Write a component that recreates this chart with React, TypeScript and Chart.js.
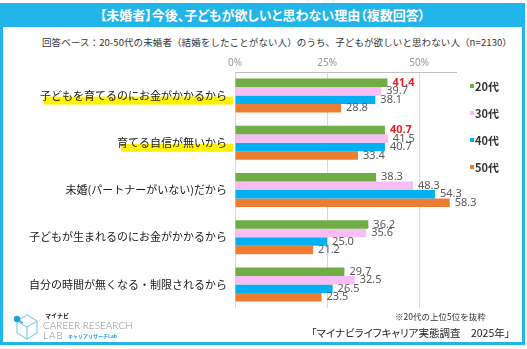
import React, { useEffect, useRef } from "react";
import { Chart, registerables } from "chart.js";

Chart.register(...registerables);

const categories = [
  "子どもを育てるのにお金がかかるから",
  "育てる自信が無いから",
  "未婚(パートナーがいない)だから",
  "子どもが生まれるのにお金がかかるから",
  "自分の時間が無くなる・制限されるから",
];
const seriesNames = ["20代", "30代", "40代", "50代"];
const values20s = [41.4, 40.7, 38.3, 36.2, 29.7];
const values30s = [39.7, 41.5, 48.3, 35.6, 32.5];
const values40s = [38.1, 40.7, 54.3, 25.0, 26.5];
const values50s = [28.8, 33.4, 58.3, 21.2, 23.5];
const seriesValues = [values20s, values30s, values40s, values50s];
const seriesColors = ["#70ad47", "#f7bdf4", "#00b0f0", "#ed7d31"];
const xTickValues = [0, 25, 50];
const xMax = 60;
const highlightedCategories = [0, 1];

const BLUE = "#22b5ea";
const JP = '"Noto Sans CJK JP", "Noto Sans", sans-serif';
const Y_PAD = 8;

const highlightPlugin = {
  id: "labelHighlight",
  beforeDraw(chart: any) {
    const ys = chart.scales.y;
    const ctx = chart.ctx;
    ctx.save();
    ctx.font = `11px ${JP}`;
    const right = ys.right - Y_PAD;
    highlightedCategories.forEach((i) => {
      const y = ys.getPixelForTick(i);
      const w = ctx.measureText(categories[i]).width;
      ctx.fillStyle = "#fff200";
      ctx.fillRect(right - w + 4, y + 1, w + 2, 8);
    });
    ctx.restore();
  },
};

const valueLabelPlugin = {
  id: "valueLabels",
  afterDatasetsDraw(chart: any) {
    const ctx = chart.ctx;
    ctx.save();
    ctx.textBaseline = "middle";
    ctx.textAlign = "left";
    chart.data.datasets.forEach((ds: any, di: number) => {
      const meta = chart.getDatasetMeta(di);
      meta.data.forEach((el: any, i: number) => {
        const v = ds.data[i] as number;
        const emph = di === 0 && highlightedCategories.includes(i);
        ctx.fillStyle = emph ? "#ee1c25" : "#595959";
        ctx.font = `${emph ? "bold " : ""}11px "Noto Sans", sans-serif`;
        ctx.fillText(v.toFixed(1), el.x + 5, el.y);
      });
    });
    ctx.restore();
  },
};

function ChartCanvas() {
  const ref = useRef<HTMLCanvasElement | null>(null);
  useEffect(() => {
    if (!ref.current) return;
    const chart = new Chart(ref.current, {
      type: "bar",
      data: {
        labels: categories,
        datasets: seriesNames.map((name, i) => ({
          label: name,
          data: seriesValues[i],
          backgroundColor: seriesColors[i],
          borderWidth: 0,
          barPercentage: 1,
          categoryPercentage: 0.72,
        })),
      },
      options: {
        indexAxis: "y",
        animation: false,
        responsive: false,
        maintainAspectRatio: false,
        devicePixelRatio: 1,
        layout: { padding: { top: 50, right: 71, bottom: 41, left: 0 } },
        plugins: {
          legend: { display: false },
          tooltip: { enabled: false },
        },
        scales: {
          x: {
            position: "top",
            min: 0,
            max: xMax,
            afterBuildTicks: (s: any) => {
              s.ticks = xTickValues.map((v) => ({ value: v }));
            },
            ticks: {
              callback: (v: any) => v + "%",
              color: "#9a9a9a",
              font: { size: 10, family: '"Noto Sans", sans-serif' },
              padding: 3,
              maxRotation: 0,
            },
            grid: { color: "#d9d9d9", drawTicks: false },
            border: { display: true, color: "#bfbfbf" },
            afterFit: (s: any) => {
              s.height = 22;
            },
          },
          y: {
            ticks: {
              color: "#1a1a1a",
              font: { size: 11, family: JP },
              padding: Y_PAD,
            },
            grid: { display: false, drawTicks: false },
            border: { display: false },
            afterFit: (s: any) => {
              s.width = 235;
            },
          },
        },
      },
      plugins: [highlightPlugin, valueLabelPlugin],
    } as any);
    return () => chart.destroy();
  }, []);
  return (
    <canvas
      ref={ref}
      width={527}
      height={349}
      style={{ position: "absolute", left: 0, top: 0, width: 527, height: 349 }}
    />
  );
}

function Logo() {
  return (
    <div style={{ position: "absolute", left: 12, top: 312, width: 130, height: 32 }}>
      <svg width="30" height="30" style={{ position: "absolute", left: 0, top: 1 }}>
        <g fill="none" stroke="#8fd0ec" strokeWidth="1.3">
          <polygon points="15,2 25,8 25,20 15,26 5,20 5,8" />
          <polyline points="5,8 15,14 25,8" />
          <line x1="15" y1="14" x2="15" y2="26" />
        </g>
        <line x1="5" y1="6" x2="11" y2="10" stroke="#1fa0dc" strokeWidth="1.3" />
        <circle cx="5" cy="6" r="3.2" fill="#1fa0dc" />
      </svg>
      <div style={{ position: "absolute", left: 33, top: 0, fontSize: 6, fontWeight: 700, color: "#222", fontFamily: JP, lineHeight: "8px" }}>
        マイナビ
      </div>
      <div style={{ position: "absolute", left: 31, top: 7, fontSize: 10, color: "#8c8c8c", fontFamily: "Lato, sans-serif", fontWeight: 300, lineHeight: "12px", whiteSpace: "nowrap" }}>
        CAREER RESEARCH
      </div>
      <div style={{ position: "absolute", left: 31, top: 17, fontSize: 10, color: "#8c8c8c", fontFamily: "Lato, sans-serif", fontWeight: 300, lineHeight: "12px", letterSpacing: 1 }}>
        LAB
      </div>
      <div style={{ position: "absolute", left: 56, top: 20, fontSize: 5, color: "#1fa0dc", fontWeight: 700, fontFamily: JP, lineHeight: "7px", whiteSpace: "nowrap" }}>
        キャリアリサーチLab
      </div>
    </div>
  );
}

export default function App() {
  return (
    <div
      style={{
        position: "fixed",
        left: 0,
        top: 0,
        width: 527,
        height: 349,
        background: "#fff",
        overflow: "hidden",
        fontFamily: JP,
      }}
    >
      <div
        style={{
          position: "absolute",
          left: 0,
          top: 3,
          width: 525,
          height: 342,
          boxSizing: "border-box",
          border: `3px solid ${BLUE}`,
        }}
      />
      <div
        style={{
          position: "absolute",
          left: 0,
          top: 3,
          width: 525,
          height: 24,
          background: BLUE,
          color: "#fff",
          fontSize: 13,
          fontWeight: 700,
          lineHeight: "24px",
          textAlign: "center",
          whiteSpace: "nowrap",
          fontFeatureSettings: '"palt"',
        }}
      >
        【未婚者】今後、子どもが欲しいと思わない理由（複数回答）
      </div>
      <div
        style={{
          position: "absolute",
          left: 42,
          top: 35,
          fontSize: 9.5,
          letterSpacing: 0.1,
          color: "#333",
          lineHeight: "14px",
          whiteSpace: "nowrap",
        }}
      >
        回答ベース：20-50代の未婚者（結婚をしたことがない人）のうち、子どもが欲しいと思わない人（n=2130）
      </div>
      <ChartCanvas />
      <div style={{ position: "absolute", left: 470, top: 78 }}>
        {seriesNames.map((n, i) => (
          <div
            key={n}
            style={{
              position: "absolute",
              left: 0,
              top: i * 27,
              height: 16,
              display: "flex",
              alignItems: "center",
              whiteSpace: "nowrap",
            }}
          >
            <span style={{ width: 4, height: 4, background: seriesColors[i], marginRight: 1 }} />
            <span style={{ fontSize: 11, fontWeight: 700, color: "#333", lineHeight: "16px" }}>{n}</span>
          </div>
        ))}
      </div>
      <div
        style={{
          position: "absolute",
          left: 395,
          top: 310,
          fontSize: 8.5,
          color: "#333",
          lineHeight: "12px",
          whiteSpace: "nowrap",
        }}
      >
        ※20代の上位5位を抜粋
      </div>
      <div
        style={{
          position: "absolute",
          right: 17,
          top: 325,
          fontSize: 10.5,
          color: "#222",
          lineHeight: "15px",
          whiteSpace: "nowrap",
          fontFeatureSettings: '"palt"',
        }}
      >
        「マイナビライフキャリア実態調査　2025年」
      </div>
      <Logo />
    </div>
  );
}
